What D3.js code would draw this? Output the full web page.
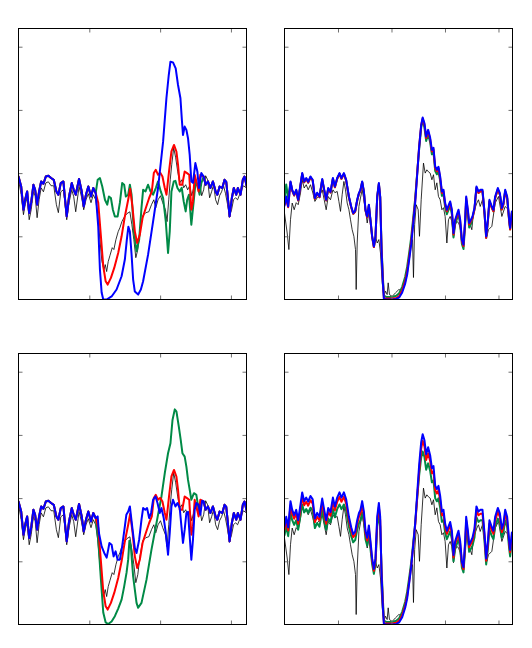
<!DOCTYPE html>
<html><head><meta charset="utf-8">
<script src="https://cdn.jsdelivr.net/npm/d3@7"></script>
<style>html,body{margin:0;padding:0;background:#fff;}svg{display:block;}</style>
</head><body>
<script>
// ---------- LEFT PANELS (x: channel units, y: normalised flux) ----------
const leftNoiseA = [[0,.973],[3.8,.894],[7.0,.710],[9.4,.789],[12.2,.855],[15.1,.684],[17.9,.766],[21.1,.908],[23.5,.868],[26.3,.750],[29.1,.855],[32.0,.934],[35.2,.916],[38.6,.973],[42.2,.979],[46.0,.961],[49.8,.947],[53.5,.855],[56.3,.829],[59.7,.921],[63.4,.934],[65.8,.789],[68.1,.657],[71.4,.815],[75.2,.921],[78.0,.868],[80.8,.829],[85.5,.953],[89.3,.855],[92.1,.736],[95.3,.829],[98.6,.894],[102.4,.815],[105.6,.882],[109.0,.842]];
const leftNoiseC = [[261.5,.973],[264.3,.908],[267.5,.934],[270.9,.882],[274.6,.934],[278.4,.855],[280.8,.829],[284.0,.894],[287.8,.882],[291.0,.947],[293.4,.931],[295.7,.803],[298.1,.657],[301.3,.803],[304.1,.882],[307.5,.829],[309.8,.882],[313.6,.829],[316.8,.947],[319.2,.973],[322.4,.894]];
const blueTopCore = [[112.6,.579],[115.0,.237],[117.4,.055],[119.7,0],[124.5,0],[131.5,.024],[138.5,.079],[145.6,.184],[150.2,.316],[153.0,.474],[155.2,.576],[157.3,.537],[159.7,.355],[161.9,.158],[164.3,.063],[169.0,.039],[172.8,.079],[176.0,.144],[183.0,.355],[190.1,.618],[197.1,.882],[204.2,1.249],[208.9,1.592],[212.2,1.776],[214.6,1.881],[218.2,1.876],[222.0,1.829],[225.3,1.697],[228.7,1.592],[230.9,1.407],[232.3,1.302],[234.7,1.368],[237.1,1.342],[239.4,1.276],[241.8,1.144],[244.1,.934],[246.4,.923],[249.8,1.079],[252.6,1.013],[254.8,.882],[258.2,1.000]];
const redCore = [[112.6,.766],[116.4,.500],[119.7,.263],[123.1,.144],[125.9,.118],[130.5,.171],[135.2,.250],[140.8,.368],[145.6,.500],[150.2,.657],[154.9,.789],[157.7,.876],[161.1,.726],[164.3,.539],[167.6,.447],[171.4,.513],[175.2,.645],[179.8,.724],[184.5,.803],[188.3,.855],[191.1,1.000],[193.9,1.026],[197.1,.987],[200.2,1.002],[203.3,.973],[206.6,.882],[209.0,.829],[212.6,1.013],[216.0,1.171],[219.6,1.223],[223.0,1.171],[225.3,1.066],[227.7,.908],[231.2,.908],[234.7,1.013],[238.0,1.000],[241.1,.987],[244.1,.710],[246.4,.776],[248.8,.987],[251.2,.934],[254.4,.855],[256.8,.987]];
const greenTopCore = [[111.8,.947],[115.0,.961],[118.3,.894],[122.1,.789],[125.3,.750],[127.7,.815],[130.5,.803],[133.3,.710],[136.1,.657],[140.0,.657],[143.2,.766],[146.4,.921],[149.2,.908],[151.6,.815],[154.9,.829],[157.3,.908],[159.7,.829],[162.9,.539],[166.7,.381],[170.4,.474],[173.7,.726],[176.0,.868],[179.4,.855],[183.0,.908],[186.4,.855],[190.1,.829],[193.9,.882],[197.1,.934],[200.9,.855],[204.2,.803],[208.0,.618],[211.2,.368],[213.6,.539],[216.0,.855],[219.3,.934],[221.6,.939],[224.5,.882],[227.7,.855],[230.5,.884],[233.3,.776],[236.1,.697],[238.2,.789],[240.8,.829],[244.1,.592],[247.4,.776],[250.2,.934],[253.0,.900],[255.8,.829],[258.2,.921]];
const greenBottomCore = [[112.6,.671],[116.4,.355],[119.7,.095],[123.1,.016],[126.7,.004],[131.5,.024],[136.1,.066],[140.8,.126],[145.6,.197],[149.2,.300],[152.6,.410],[154.9,.513],[156.6,.663],[158.7,.616],[161.9,.381],[166.7,.171],[169.0,.132],[173.7,.171],[180.8,.355],[187.8,.592],[194.9,.803],[201.9,1.013],[206.6,1.197],[211.2,1.355],[214.6,1.434],[217.5,1.618],[220.7,1.702],[223.1,1.684],[226.4,1.565],[229.1,1.460],[231.5,1.355],[234.7,1.328],[237.1,1.249],[239.4,1.144],[241.8,1.066],[244.1,.987],[247.8,1.039],[251.2,1.026],[254.4,.908],[258.2,.963]];
const blueBottomCore = [[111.8,.855],[113.6,.724],[117.4,.618],[121.1,.566],[124.5,.529],[126.7,.592],[128.4,.645],[131.5,.631],[134.3,.539],[137.1,.579],[140.0,.513],[143.2,.513],[146.4,.618],[150.2,.776],[152.3,.868],[154.9,.894],[157.3,.934],[161.1,.750],[164.3,.605],[166.7,.566],[170.4,.671],[173.7,.829],[176.0,.921],[179.1,.908],[181.6,.921],[184.5,.842],[187.3,.884],[190.1,.987],[193.5,1.013],[196.3,.961],[199.5,.882],[201.9,.921],[205.1,.842],[208.0,.724],[211.2,.552],[213.6,.724],[216.0,.934],[218.2,.987],[221.6,.934],[224.5,.961],[227.7,.921],[230.1,.776],[232.3,.645],[234.7,.750],[237.1,.882],[239.4,.892],[241.8,.697],[244.1,.513],[246.4,.671],[248.8,.908],[251.2,.961],[254.4,.947],[256.8,.868],[259.3,.979]];
const blackLeft = [[0,.947],[3.8,.829],[7.0,.671],[9.4,.750],[12.2,.805],[15.1,.631],[17.9,.710],[21.1,.852],[23.5,.821],[26.3,.647],[29.1,.789],[32.0,.884],[35.2,.852],[38.6,.923],[42.2,.931],[46.0,.900],[49.8,.900],[53.5,.750],[56.3,.687],[59.7,.852],[63.4,.868],[65.8,.750],[68.1,.631],[71.4,.766],[75.2,.868],[78.0,.813],[80.8,.694],[85.5,.892],[89.3,.805],[92.1,.710],[95.3,.789],[98.6,.837],[102.4,.766],[105.6,.829],[109.0,.789],[111.8,.671],[115.0,.474],[117.8,.300],[120.7,.237],[122.5,.276],[124.5,.221],[126.7,.300],[129.1,.347],[132.4,.410],[134.7,.395],[137.6,.474],[140.8,.537],[143.2,.568],[146.0,.616],[148.8,.647],[153.0,.679],[157.3,.694],[160.1,.592],[162.9,.474],[165.7,.331],[168.5,.395],[171.4,.537],[175.6,.663],[179.8,.687],[184.0,.694],[187.8,.750],[191.1,.789],[193.9,.726],[197.1,.789],[200.5,.821],[203.7,.766],[207.5,.710],[209.8,.616],[212.2,.789],[214.3,.947],[216.4,1.066],[219.2,1.200],[222.0,1.121],[224.9,1.010],[227.7,.923],[230.5,.947],[233.3,.884],[236.1,.908],[238.9,.868],[241.8,.900],[244.6,.821],[247.4,.884],[250.2,.947],[253.0,.892],[255.8,.931],[258.7,.821],[261.5,.868],[264.3,.979],[267.1,.947],[269.9,.805],[272.7,.852],[275.5,.908],[278.4,.789],[281.2,.750],[284.0,.821],[286.8,.852],[289.6,.900],[292.4,.837],[295.3,.750],[298.1,.663],[300.9,.710],[303.7,.789],[306.5,.805],[309.4,.789],[312.2,.829],[315.0,.868],[317.8,.900],[321.6,.884]];

// ---------- RIGHT PANELS ----------
const xRight = [0,3.2,6.9,11.2,14.4,18.1,21.9,25.6,29.9,33.1,36.8,40.6,44.3,48.6,52.7,56.8,61.1,65.4,70.5,74.2,77.9,81.7,86.0,90.5,94.2,98.5,102.8,106.5,111.0,115.3,120.4,124.7,128.4,132.1,135.9,139.1,142.0,145.2,148.4,151.4,154.6,157.7,160.7,163.9,167.1,170.1,173.3,176.4,178.9,181.3,183.9,185.8,190.1,201.3,208.8,214.4,220.0,225.6,229.3,233.1,236.8,240.5,244.3,248.0,251.7,255.5,258.3,261.6,264.8,268.5,272.3,275.5,278.5,281.7,284.8,287.8,291.0,294.2,297.2,300.3,303.5,306.5,309.7,312.9,315.9,319.0,322.2,325.2,328.4,331.6,334.6,337.7,339.6,342.8,345.2,348.4,351.4,355.1,358.8,362.6,366.3,370.1,373.8,377.0,380.2,383.1,387.6,390.6,393.8,398.8,402.6,406.3,409.3,412.5,416.2,420.0,421.8,425.0,427.4];
const blueTR = [.742,.815,.736,.934,.868,.829,.868,.789,.908,1.000,.934,.961,.931,.973,.947,.803,.845,.815,.953,.868,.789,.882,.852,.961,.894,.961,1.000,.961,1.000,.947,.815,.736,.684,.702,.789,.842,.868,.934,.855,.710,.657,.750,.631,.500,.421,.500,.815,.921,.815,.395,.132,.004,0,0,.004,.016,.055,.126,.197,.316,.434,.592,.766,.987,1.208,1.381,1.440,1.395,1.289,1.342,1.279,1.184,1.200,1.052,1.026,1.050,.973,.855,.868,.763,.710,.742,.776,.710,.526,.631,.671,.710,.631,.474,.434,.631,.815,.710,.605,.631,.657,.724,.894,.855,.868,.868,.697,.500,.631,.789,.736,.710,.815,.882,.842,.724,.766,.868,.815,.631,.566,.697,.657];
const redTR = [.75,.79,.73,.928,.862,.823,.862,.783,.902,.994,.928,.955,.925,.967,.941,.797,.839,.809,.947,.862,.783,.876,.846,.955,.888,.955,.994,.955,.994,.941,.809,.730,.678,.696,.783,.836,.862,.928,.849,.704,.651,.744,.625,.494,.415,.494,.809,.915,.809,.41,.15,.01,.008,.008,.012,.028,.072,.145,.22,.335,.455,.61,.78,.995,1.21,1.378,1.432,1.383,1.277,1.330,1.267,1.172,1.188,1.040,1.014,1.038,.961,.843,.856,.751,.698,.730,.764,.698,.514,.619,.659,.698,.619,.462,.422,.619,.803,.698,.593,.619,.645,.712,.882,.843,.856,.856,.685,.488,.619,.777,.724,.698,.803,.870,.830,.712,.754,.856,.803,.619,.554,.685,.645];
const greenTR = [.78,.91,.80,.928,.862,.823,.862,.783,.902,.994,.928,.955,.925,.967,.941,.797,.839,.809,.947,.862,.783,.876,.846,.955,.888,.955,.994,.955,.994,.941,.809,.730,.678,.696,.783,.836,.862,.928,.849,.704,.651,.744,.625,.494,.415,.494,.809,.915,.809,.43,.18,.03,.02,.02,.03,.05,.10,.18,.26,.37,.49,.64,.80,1.0,1.19,1.36,1.42,1.360,1.254,1.307,1.244,1.149,1.165,1.017,.991,1.015,.938,.820,.833,.728,.675,.707,.741,.675,.491,.596,.636,.675,.596,.439,.399,.596,.780,.675,.570,.596,.645,.712,.882,.843,.856,.856,.685,.488,.619,.777,.724,.698,.803,.870,.830,.712,.754,.856,.803,.619,.554,.685,.645];
const blueBR = [.775,.852,.769,.976,.907,.866,.907,.825,.949,1.045,.976,1.004,.973,1.017,.990,.839,.883,.852,.996,.907,.825,.922,.890,1.004,.934,1.004,1.045,1.004,1.045,.990,.852,.769,.715,.734,.825,.880,.907,.976,.893,.742,.687,.784,.659,.523,.440,.523,.852,.962,.852,.413,.138,.004,0,0,.004,.017,.057,.132,.206,.330,.454,.619,.800,1.031,1.262,1.443,1.505,1.458,1.347,1.402,1.337,1.237,1.254,1.099,1.072,1.097,1.017,.893,.907,.797,.742,.775,.811,.742,.550,.659,.701,.742,.659,.495,.454,.659,.852,.742,.632,.659,.687,.757,.934,.893,.907,.907,.728,.523,.659,.825,.769,.742,.852,.922,.880,.757,.800,.907,.852,.659,.591,.728,.687];
const redBR = [.749,.823,.743,.943,.877,.837,.877,.797,.917,1.010,.943,.971,.940,.983,.956,.811,.853,.823,.963,.877,.797,.891,.861,.971,.903,.971,1.010,.971,1.010,.956,.823,.743,.691,.709,.797,.850,.877,.943,.864,.717,.664,.758,.637,.505,.425,.505,.823,.930,.823,.42,.16,.01,.008,.008,.015,.03,.075,.15,.225,.34,.46,.615,.785,1.0,1.215,1.39,1.454,1.409,1.302,1.355,1.292,1.196,1.212,1.063,1.036,1.061,.983,.864,.877,.771,.717,.749,.784,.717,.531,.637,.678,.717,.637,.479,.438,.637,.823,.717,.611,.637,.664,.731,.903,.864,.877,.877,.704,.505,.637,.797,.743,.717,.823,.891,.850,.731,.774,.877,.823,.637,.572,.704,.664];
const greenBR = [.705,.774,.699,.887,.825,.788,.825,.750,.863,.950,.887,.913,.884,.924,.900,.763,.803,.774,.905,.825,.750,.838,.809,.913,.849,.913,.950,.913,.950,.900,.774,.699,.650,.667,.750,.800,.825,.887,.812,.675,.624,.713,.599,.475,.400,.475,.774,.875,.774,.45,.20,.03,.02,.02,.03,.05,.10,.18,.26,.37,.49,.64,.80,1.0,1.18,1.32,1.368,1.325,1.225,1.275,1.215,1.125,1.140,.999,.975,.998,.924,.812,.825,.725,.675,.705,.737,.675,.500,.599,.637,.675,.599,.450,.412,.599,.774,.675,.575,.599,.624,.688,.849,.812,.825,.825,.662,.475,.599,.750,.699,.675,.774,.838,.800,.688,.728,.825,.774,.599,.538,.662,.624];
const blackRight = [[0,.684],[5.0,.526],[8.2,.395],[11.2,.631],[14.4,.763],[18.1,.710],[21.9,.766],[25.6,.750],[29.9,.842],[33.1,.947],[36.8,.882],[40.6,.908],[44.3,.868],[48.6,.908],[53.1,.842],[56.8,.776],[61.1,.805],[65.4,.821],[70.5,.868],[74.2,.789],[77.9,.710],[81.7,.815],[86.0,.789],[90.5,.868],[94.2,.845],[98.5,.855],[101.7,.776],[104.7,.697],[107.8,.829],[111.0,.934],[114.0,.868],[117.2,.763],[120.4,.710],[123.4,.631],[126.5,.552],[129.7,.500],[132.7,.395],[134.0,.079],[135.9,.447],[139.1,.736],[142.0,.803],[145.2,.868],[148.4,.789],[151.4,.710],[154.6,.605],[157.7,.687],[160.7,.605],[163.9,.487],[167.1,.447],[170.1,.500],[173.3,.447],[176.4,.474],[179.4,.368],[182.6,.132],[185.8,.026],[188.8,.066],[191.9,.039],[193.8,.132],[196.2,.039],[201.3,.024],[207.5,.053],[213.8,.079],[218.1,.071],[221.8,.110],[225.6,.158],[231.2,.300],[235.9,.434],[239.3,.474],[241.1,.174],[243.3,.592],[246.2,.750],[249.9,.710],[252.3,.500],[255.5,.789],[259.8,1.079],[263.0,1.000],[266.1,1.026],[269.1,1.010],[272.3,1.000],[275.5,.947],[278.5,.987],[281.7,.868],[284.8,.923],[287.8,.815],[291.0,.789],[294.2,.710],[297.2,.726],[300.3,.657],[303.5,.447],[306.5,.631],[309.7,.657],[312.9,.616],[315.9,.489],[319.0,.592],[322.2,.616],[325.2,.608],[328.4,.568],[331.6,.460],[334.6,.421],[337.7,.579],[340.9,.736],[343.9,.631],[347.1,.592],[350.2,.552],[353.2,.687],[359.6,.763],[362.6,.789],[365.8,.736],[370.1,.789],[375.1,.631],[378.3,.500],[381.3,.552],[387.6,.579],[393.8,.763],[400.0,.815],[406.3,.657],[412.5,.736],[418.7,.710],[421.8,.566],[425.0,.657],[427.4,.631]];

// ---------- axes ----------
const yDomain = [0, 2.144];
const yTicks = [0.5, 1, 1.5, 2];
const leftXDomain = [0, 322];
const leftXTicks = [100, 200, 300];
const rightXDomain = [0, 426.2];
const rightXTicks = [100, 200, 300, 400];

const zip = (xs, ys) => xs.map((x, i) => [x, ys[i]]);
const COL = {black: '#000000', green: '#008a46', red: '#ff0000', blue: '#0000ff'};

const svg = d3.select('body').append('svg').attr('width', 532).attr('height', 648);
svg.append('rect').attr('width', 532).attr('height', 648).attr('fill', '#fff');

function drawPanel(id, x0, y0, w, h, xDomain, xTicks, series) {
  const x = d3.scaleLinear().domain(xDomain).range([x0, x0 + w]);
  const y = d3.scaleLinear().domain(yDomain).range([y0 + h, y0]);
  const g = svg.append('g');
  g.append('clipPath').attr('id', 'clip' + id)
    .append('rect').attr('x', x0).attr('y', y0).attr('width', w).attr('height', h);
  const line = d3.line().x(d => x(d[0])).y(d => y(d[1]));
  const lg = g.append('g').attr('clip-path', `url(#clip${id})`);
  series.forEach(s => {
    lg.append('path').datum(s.data)
      .attr('fill', 'none').attr('stroke', COL[s.color])
      .attr('stroke-width', s.color === 'black' ? 0.8 : 2)
      .attr('stroke-linejoin', 'round').attr('stroke-linecap', 'round')
      .attr('d', line);
  });
  const tk = 4;
  const axes = [
    [d3.axisBottom(x).tickValues(xTicks), `translate(0,${y0 + h})`],
    [d3.axisTop(x).tickValues(xTicks), `translate(0,${y0})`],
    [d3.axisLeft(y).tickValues(yTicks), `translate(${x0},0)`],
    [d3.axisRight(y).tickValues(yTicks), `translate(${x0 + w},0)`]
  ];
  axes.forEach(([ax, tr]) => {
    const a = g.append('g').attr('transform', tr)
      .call(ax.tickSize(-tk).tickSizeOuter(0).tickFormat(''));
    a.select('.domain').remove();
    a.selectAll('.tick line').attr('stroke', '#707070').attr('stroke-width', 1);
  });
  g.append('rect').attr('x', x0).attr('y', y0).attr('width', w).attr('height', h)
    .attr('fill', 'none').attr('stroke', '#000').attr('stroke-width', 1);
}

const greenTL = [...leftNoiseA, ...greenTopCore, ...leftNoiseC];
const redL = [...leftNoiseA, ...redCore, ...leftNoiseC];
const blueTL = [...leftNoiseA, ...blueTopCore, ...leftNoiseC];
const greenBL = [...leftNoiseA, ...greenBottomCore, ...leftNoiseC];
const blueBL = [...leftNoiseA, ...blueBottomCore, ...leftNoiseC];

drawPanel('tl', 18.5, 28.5, 228, 271, leftXDomain, leftXTicks, [
  {color: 'black', data: blackLeft}, {color: 'green', data: greenTL},
  {color: 'red', data: redL}, {color: 'blue', data: blueTL}]);
drawPanel('tr', 284.5, 28.5, 228, 271, rightXDomain, rightXTicks, [
  {color: 'black', data: blackRight}, {color: 'green', data: zip(xRight, greenTR)},
  {color: 'red', data: zip(xRight, redTR)}, {color: 'blue', data: zip(xRight, blueTR)}]);
drawPanel('bl', 18.5, 353.5, 228, 271, leftXDomain, leftXTicks, [
  {color: 'black', data: blackLeft}, {color: 'green', data: greenBL},
  {color: 'red', data: redL}, {color: 'blue', data: blueBL}]);
drawPanel('br', 284.5, 353.5, 228, 271, rightXDomain, rightXTicks, [
  {color: 'black', data: blackRight}, {color: 'green', data: zip(xRight, greenBR)},
  {color: 'red', data: zip(xRight, redBR)}, {color: 'blue', data: zip(xRight, blueBR)}]);
</script>
</body></html>
